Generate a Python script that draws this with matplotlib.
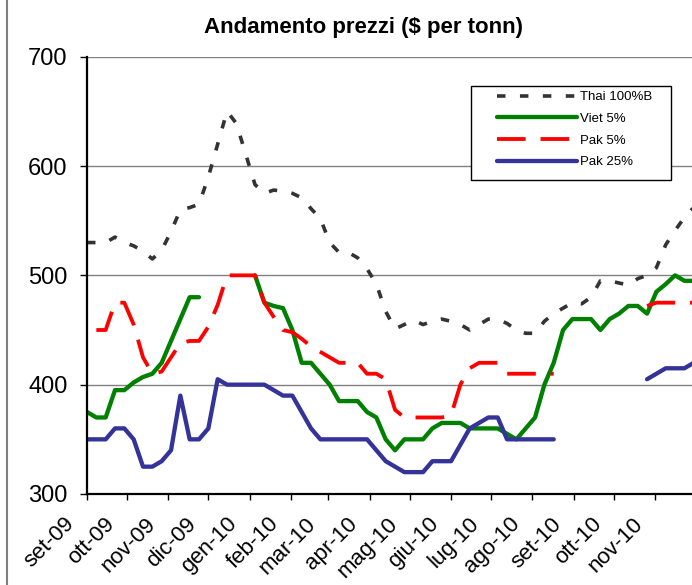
import numpy as np
import pandas as pd
import matplotlib
matplotlib.use("Agg")
import matplotlib.pyplot as plt
from matplotlib.patches import Rectangle
from matplotlib.lines import Line2D
from matplotlib.transforms import ScaledTranslation

plt.rcParams["font.family"] = ["Liberation Sans", "DejaVu Sans"]

# ============================================================================
# Dati (prezzi settimanali, $ per tonnellata)
# ============================================================================
nan = np.nan
weeks = pd.date_range("2009-09-01", periods=66, freq="7D")

thai_100b = [530, 530, 530, 535, 530, 527, 522, 515, 523, 540,
             560, 562, 565, 590, 620, 650, 639, 611, 583, 575,
             578, 577, 575, 571, 561, 552, 530, 521, 521, 516,
             506, 492, 467, 451, 455, 459, 455, 458, 460, 458,
             455, 450, 455, 460, 460, 456, 450, 447, 447, 458,
             465, 470, 475, 474, 480, 495, 495, 493, 491, 497,
             500, 507, 528, 541, 553, 562]

viet_5 = [375, 370, 370, 395, 395, 402, 407, 410, 420, 440,
          460, 480, 480, nan, nan, nan, nan, nan, 500, 475,
          472, 470, 450, 420, 420, 410, 400, 385, 385, 385,
          375, 370, 350, 340, 350, 350, 350, 360, 365, 365,
          365, 360, 360, 360, 360, 355, 350, 360, 370, 400,
          420, 450, 460, 460, 460, 450, 460, 465, 472, 472,
          465, 485, 492, 500, 495, 495]

pak_5 = [nan, 450, 450, 475, 475, 455, 425, 410, 412, 425,
         438, 440, 440, 453, 473, 500, 500, 500, 500, 475,
         462, 450, 448, 442, 435, 430, 425, 420, 420, 420,
         410, 410, 405, 377, 370, 370, 370, 370, 370, 372,
         400, 415, 420, 420, 420, 410, 410, 410, 410, 410,
         410, nan, nan, nan, nan, nan, nan, nan, nan, nan,
         472, 475, 475, 475, 475, 475]

pak_25 = [350, 350, 350, 360, 360, 350, 325, 325, 330, 340,
          390, 350, 350, 360, 405, 400, 400, 400, 400, 400,
          395, 390, 390, 375, 360, 350, 350, 350, 350, 350,
          350, 340, 330, 325, 320, 320, 320, 330, 330, 330,
          345, 360, 365, 370, 370, 350, 350, 350, 350, 350,
          350, nan, nan, nan, nan, nan, nan, nan, nan, nan,
          405, 410, 415, 415, 415, 420]

month_ticks = pd.date_range("2009-09-01", "2010-11-01", freq="MS")
month_labels = ["set-09", "ott-09", "nov-09", "dic-09", "gen-10", "feb-10",
                "mar-10", "apr-10", "mag-10", "giu-10", "lug-10", "ago-10",
                "set-10", "ott-10", "nov-10"]
y_ticks = [300, 400, 500, 600, 700]

# ============================================================================
# Figura
# ============================================================================
W, H = 692, 585
fig = plt.figure(figsize=(W / 100, H / 100), dpi=100)
ax = fig.add_axes([87 / W, 91 / H, 1 - 87 / W, 437.3 / H])

ax.plot(weeks, thai_100b, color="#333333", lw=2.6,
        linestyle=(0, (2.35, 4.0)), dash_capstyle="butt", label="Thai 100%B")
ax.plot(weeks, viet_5, color="#008000", lw=3.1,
        solid_capstyle="round", solid_joinstyle="round", label="Viet 5%")
ax.plot(weeks, pak_5, color="#FF0000", lw=2.75,
        linestyle=(0, (7.5, 3.9)), dash_capstyle="butt", label="Pak 5%")
ax.plot(weeks, pak_25, color="#333399", lw=3.1,
        solid_capstyle="round", solid_joinstyle="round", label="Pak 25%")

ax.set_xlim(weeks[0], weeks[0] + pd.Timedelta(days=453.7))
ax.set_ylim(300, 700)
ax.set_yticks(y_ticks)
ax.set_xticks(month_ticks)
ax.set_xticklabels(month_labels)

ax.yaxis.grid(True, color="#808080", lw=1.0)
ax.set_axisbelow(True)
for s in ["top", "right"]:
    ax.spines[s].set_visible(False)
for s in ["left", "bottom"]:
    ax.spines[s].set_linewidth(1.6)
    ax.spines[s].set_color("black")

ax.tick_params(axis="y", length=5, width=1, pad=9, labelsize=17)
ax.tick_params(axis="x", length=4, width=1, pad=10, labelsize=16)
shift = ScaledTranslation(-0.23, 0, fig.dpi_scale_trans)
for lab in ax.get_xticklabels():
    lab.set_rotation(45)
    lab.set_rotation_mode("anchor")
    lab.set_ha("right")
    lab.set_va("top")
    lab.set_transform(lab.get_transform() + shift)

# titolo
fig.text(364 / W, 1 - 27 / H, "Andamento prezzi ($ per tonn)",
         ha="center", va="center", fontsize=16, fontweight="bold")

# bordo del grafico (lato sinistro)
fig.add_artist(Line2D([7 / W, 7 / W], [0, 1], transform=fig.transFigure,
                      color="#808080", lw=1.5))

# legenda: riquadro + voci
fig.add_artist(Rectangle((471 / W, 1 - 180 / H), 200 / W, 94.3 / H,
                         transform=fig.transFigure, facecolor="white",
                         edgecolor="black", lw=1.0, zorder=2))
handles, labels = ax.get_legend_handles_labels()
fig.legend(handles, labels, loc="upper left",
           bbox_to_anchor=(497 / W, 1 - 91 / H), bbox_transform=fig.transFigure,
           frameon=False, fontsize=9.5, handlelength=6.06, handletextpad=0.23,
           labelspacing=0.72, borderpad=0, borderaxespad=0)

fig.savefig("out.png", dpi=100)
